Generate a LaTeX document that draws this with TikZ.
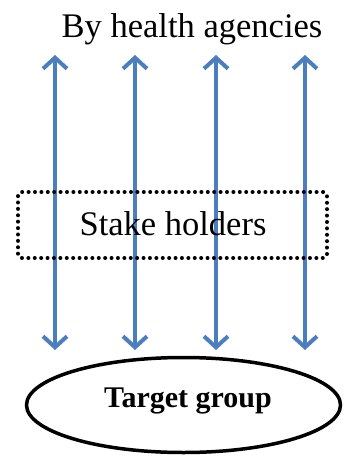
\documentclass[tikz,border=0pt]{standalone}
\usepackage{fontspec}
\setmainfont{Liberation Serif}
\usetikzlibrary{arrows.meta,shapes.geometric}
\definecolor{arrblue}{RGB}{74,126,190}
\tikzset{
  dblarrow/.style={draw=arrblue, line width=4pt,
    {Straight Barb[length=11pt,width=24pt]}-{Straight Barb[length=11pt,width=24pt]}},
  dotbox/.style={draw=black, line width=4pt, dash pattern=on 0pt off 6.4pt, line cap=round,
    rounded corners=4pt, minimum width=309pt, minimum height=66pt, inner sep=0pt},
  oval/.style={draw=black, line width=3.5pt, ellipse, minimum width=314pt, minimum height=95pt, inner sep=0pt},
  titletext/.style={font=\fontsize{34.5}{38}\selectfont, inner sep=0pt},
  staketextstyle/.style={font=\fontsize{34.5}{38}\selectfont, inner sep=0pt},
  ovaltext/.style={font=\bfseries\fontsize{30}{34}\selectfont, inner sep=0pt}
}
\begin{document}
\begin{tikzpicture}[x=1pt,y=-1pt]
\useasboundingbox[fill=white] (0,0) rectangle (343,463);
\node[titletext, anchor=base] (title) at (192,37) {By health agencies};
\foreach \i/\x in {1/55,2/135,3/216,4/305}{
  \coordinate (t\i) at (\x,55);
  \coordinate (b\i) at (\x,350);
  \draw[dblarrow] (b\i) -- (t\i);
}
\node[dotbox] (stake) at (172.5,225) {};
\node[staketextstyle] (staketext) at (173,224) {Stake holders};
\node[oval] (target) at (183.5,405) {};
\node[ovaltext] (targettext) at (188,401) {Target group};
\end{tikzpicture}
\end{document}
